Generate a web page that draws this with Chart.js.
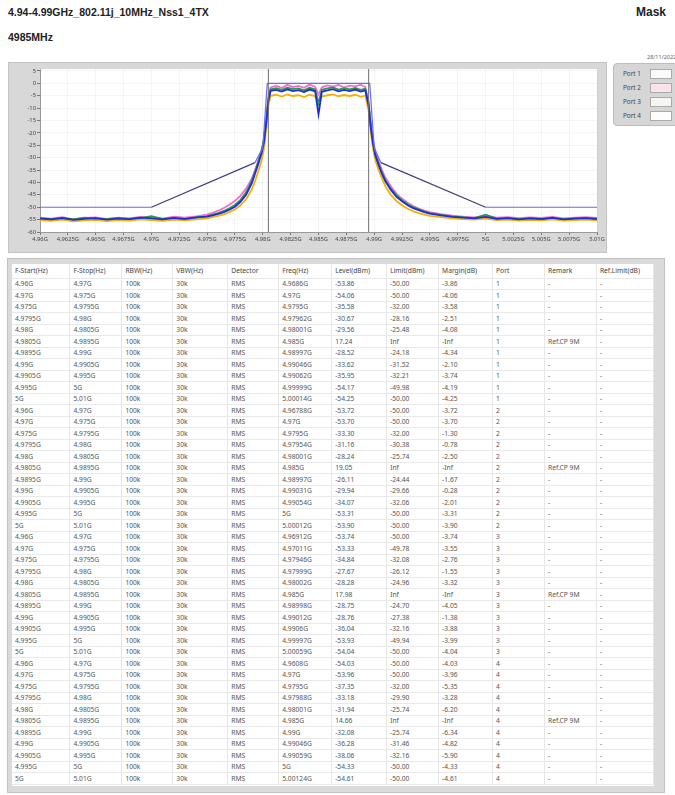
<!DOCTYPE html>
<html>
<head>
<meta charset="utf-8">
<script src="https://cdn.jsdelivr.net/npm/chart.js@4.4.1/dist/chart.umd.min.js"></script>
<style>
  body { margin: 0; width: 675px; height: 795px; background: #fff; overflow: hidden; position: relative; font-family: "Liberation Sans", Arial, sans-serif; }
  .title { position: absolute; font-weight: bold; font-size: 10.5px; color: #222; white-space: nowrap; }
  .date { position: absolute; left: 647px; top: 53px; font-size: 5.5px; color: #666; font-family: "Noto Sans", sans-serif; }
  #chartBox { position: absolute; left: 8px; top: 62px; width: 599px; height: 191px; background: #d8d8d8; border: 1px solid #c4c4c4; box-sizing: border-box; }
  #legend { position: absolute; left: 613px; top: 63px; width: 70px; height: 63px; background: #d6d6d6; border: 1px solid #bcbcbc; border-radius: 4px; box-sizing: border-box; font-family: "Noto Sans", sans-serif; font-size: 6.4px; color: #444; }
  #legend div { position: absolute; left: 9px; }
  #legend span { position: absolute; left: 36px; width: 22px; height: 10px; border: 1px solid #aaa; box-sizing: border-box; }
  #tableBox { position: absolute; left: 7px; top: 258px; width: 658px; height: 535px; background: #dadada; border: 1px solid #c2c2c2; box-sizing: border-box; }
  #tableInner { position: absolute; left: 4px; top: 5px; width: 642px; height: 522px; background: #fff; overflow: hidden; }
  table { border-collapse: collapse; font-family: "Noto Sans", sans-serif; font-size: 6.7px; color: #555; table-layout: fixed; }
  td { height: 11.5px; padding: 0 0 0 3px; border-bottom: 1px solid #e9e9e9; border-right: 1px solid #e6e6e6; white-space: nowrap; overflow: hidden; box-sizing: border-box; }
  tr.head td { height: 14px; color: #444; }
  td.mg { border-left: 1px solid #cdd96a; }
</style>
</head>
<body>
<div class="title" style="left:8px; top:6px;">4.94-4.99GHz_802.11j_10MHz_Nss1_4TX</div>
<div class="title" style="left:636px; top:5px; font-size:12px;">Mask</div>
<div class="title" style="left:8px; top:31px;">4985MHz</div>
<div class="date">28/11/2022</div>

<div id="chartBox"><canvas id="maskChart"></canvas></div>

<div id="legend">
  <div style="top:5px">Port 1</div><span style="top:5px; background:#fbfbfb;"></span>
  <div style="top:19px">Port 2</div><span style="top:19px; background:#fbe1ec;"></span>
  <div style="top:33px">Port 3</div><span style="top:33px; background:#f4f6f2;"></span>
  <div style="top:47px">Port 4</div><span style="top:47px; background:#fdfdfb;"></span>
</div>

<div id="tableBox"><div id="tableInner"><table id="resTable"></table></div></div>

<script>
// Axis ticks
const xTickVals = [4960, 4962.5, 4965, 4967.5, 4970, 4972.5, 4975, 4977.5, 4980, 4982.5, 4985, 4987.5, 4990, 4992.5, 4995, 4997.5, 5000, 5002.5, 5005, 5007.5, 5010];
const xTickLabels = ['4.96G', '4.9625G', '4.965G', '4.9675G', '4.97G', '4.9725G', '4.975G', '4.9775G', '4.98G', '4.9825G', '4.985G', '4.9875G', '4.99G', '4.9925G', '4.995G', '4.9975G', '5G', '5.0025G', '5.005G', '5.0075G', '5.01G'];
const yTickVals = [5, 0, -5, -10, -15, -20, -25, -30, -35, -40, -45, -50, -55, -60];

// Spectrum trace frequencies (MHz)
const freqMHz = [
  4960, 4961, 4962, 4963, 4964, 4965, 4966, 4967, 4968, 4969, 4970, 4971, 4972, 4973, 4974,
  4975, 4975.5, 4976, 4976.5, 4977, 4977.5, 4978, 4978.5, 4979, 4979.3, 4979.6, 4979.9, 4980.1, 4980.3, 4980.5,
  4980.7, 4981.2, 4981.7, 4982.2, 4982.7, 4983.2, 4983.7, 4984.2, 4984.7, 4985, 4985.3, 4985.8, 4986.3, 4986.8, 4987.3, 4987.8, 4988.3, 4988.8, 4989.2,
  4989.5, 4989.7, 4989.9, 4990.1, 4990.4, 4990.7, 4991, 4991.5, 4992, 4992.5, 4993, 4993.5, 4994, 4994.5, 4995,
  4996, 4997, 4998, 4999, 5000, 5001, 5002, 5003, 5004, 5005, 5006, 5007, 5008, 5009, 5010
];

// Levels (dBm) per port
const port1 = [
  -54.6, -54.9, -54.3, -55.1, -54.7, -54.4, -55.0, -54.6, -54.8, -54.2, -54.5, -54.9, -54.3, -54.7, -54.1,
  -53.8, -53.3, -52.7, -52.0, -51.0, -49.8, -47.8, -45.0, -40.5, -36.5, -32.5, -28.0, -24.0, -16.5, -7.0,
  -3.0, -2.6, -3.3, -2.4, -3.1, -2.7, -3.5, -2.5, -3.2, -12.5, -3.4, -2.8, -2.3, -3.2, -2.6, -3.1, -2.5, -3.3, -2.8,
  -9.0, -18.0, -24.5, -29.0, -33.0, -36.5, -39.5, -43.0, -45.8, -47.6, -49.2, -50.4, -51.2, -52.0, -52.6,
  -53.3, -53.9, -54.2, -54.5, -53.9, -54.7, -54.4, -54.9, -54.5, -54.8, -54.3, -54.9, -54.6, -54.4, -54.8
];
const port2 = [
  -54.2, -54.6, -54.0, -54.8, -54.3, -54.1, -54.7, -54.2, -54.5, -53.9, -54.1, -54.6, -53.8, -54.2, -53.7,
  -53.0, -52.3, -51.4, -50.3, -49.0, -47.4, -45.3, -42.5, -38.5, -35.0, -31.2, -27.0, -23.0, -15.0, -5.5,
  -1.6, -0.9, -1.9, -0.6, -1.5, -1.0, -1.8, -0.5, -1.4, -4.5, -1.6, -0.8, -1.3, -0.6, -1.7, -0.9, -1.2, -0.5, -1.5,
  -7.5, -16.5, -23.0, -27.5, -31.5, -35.0, -38.0, -41.5, -44.5, -46.5, -48.2, -49.5, -50.5, -51.4, -52.0,
  -52.8, -53.4, -53.8, -54.1, -53.5, -54.2, -54.0, -54.4, -54.1, -54.3, -53.9, -54.5, -54.2, -54.0, -54.3
];
const port3 = [
  -54.4, -54.8, -54.5, -54.9, -54.2, -54.6, -54.8, -54.3, -54.7, -54.4, -53.6, -54.7, -54.4, -54.8, -54.2,
  -53.6, -53.0, -52.4, -51.5, -50.4, -49.1, -47.0, -44.0, -39.5, -35.8, -31.5, -27.0, -22.5, -15.5, -6.5,
  -2.4, -1.9, -2.6, -1.7, -2.3, -2.0, -2.8, -1.8, -2.5, -8.0, -2.6, -2.0, -1.6, -2.5, -1.9, -2.4, -1.8, -2.6, -2.1,
  -8.5, -17.5, -24.0, -28.5, -32.5, -36.0, -39.0, -42.5, -45.2, -47.2, -48.8, -50.0, -50.9, -51.7, -52.4,
  -53.1, -53.7, -54.1, -54.4, -53.0, -54.6, -54.3, -54.8, -54.4, -54.7, -54.2, -54.8, -54.5, -54.3, -54.6
];
const port4 = [
  -55.2, -55.5, -55.0, -55.7, -55.3, -55.1, -55.6, -55.2, -55.4, -54.9, -55.2, -55.5, -55.0, -55.3, -54.9,
  -54.5, -54.0, -53.5, -52.9, -52.0, -50.9, -49.2, -46.8, -43.0, -39.5, -35.5, -31.0, -26.5, -18.5, -9.0,
  -5.0, -4.6, -5.3, -4.5, -5.1, -4.8, -5.5, -4.6, -5.2, -7.5, -5.3, -4.8, -4.5, -5.2, -4.7, -5.1, -4.6, -5.4, -4.9,
  -11.0, -20.0, -26.5, -31.0, -35.0, -38.5, -41.5, -45.0, -47.5, -49.2, -50.6, -51.6, -52.4, -53.0, -53.5,
  -54.0, -54.5, -54.8, -55.0, -54.6, -55.2, -55.0, -55.4, -55.1, -55.3, -54.9, -55.4, -55.2, -55.0, -55.3
];

// Mask limit line
const maskFreq = [4960, 4970, 4979.3, 4980, 4980.4, 4989.6, 4990, 4990.6, 5000, 5010];
const maskLevel = [-50, -50, -32, -26, 0, 0, -26, -32, -50, -50];

// Channel edge markers
const markerFreq = [4980.5, 4989.5];

// Result table columns
const fStart = ['4.96G','4.97G','4.975G','4.9795G','4.98G','4.9805G','4.9895G','4.99G','4.9905G','4.995G','5G'];
const fStop = ['4.97G','4.975G','4.9795G','4.98G','4.9805G','4.9895G','4.99G','4.9905G','4.995G','5G','5.01G'];
const peakFreq = [
  '4.9686G','4.97G','4.9795G','4.97962G','4.98001G','4.985G','4.98997G','4.99046G','4.99062G','4.99999G','5.00014G',
  '4.96788G','4.97G','4.9795G','4.97954G','4.98001G','4.985G','4.98997G','4.99031G','4.99054G','5G','5.00012G',
  '4.96912G','4.97011G','4.97946G','4.97999G','4.98002G','4.985G','4.98998G','4.99012G','4.9906G','4.99997G','5.00059G',
  '4.9608G','4.97G','4.9795G','4.97988G','4.98001G','4.985G','4.99G','4.99046G','4.99059G','5G','5.00124G'
];
const levelCol = [
  '-53.86','-54.06','-35.58','-30.67','-29.56','17.24','-28.52','-33.62','-35.95','-54.17','-54.25',
  '-53.72','-53.70','-33.30','-31.16','-28.24','19.05','-26.11','-29.94','-34.07','-53.31','-53.90',
  '-53.74','-53.33','-34.84','-27.67','-28.28','17.98','-28.75','-28.76','-36.04','-53.93','-54.04',
  '-54.03','-53.96','-37.35','-33.18','-31.94','14.66','-32.08','-36.28','-38.06','-54.33','-54.61'
];
const limitCol = [
  '-50.00','-50.00','-32.00','-28.16','-25.48','Inf','-24.18','-31.52','-32.21','-49.98','-50.00',
  '-50.00','-50.00','-32.00','-30.38','-25.74','Inf','-24.44','-29.66','-32.06','-50.00','-50.00',
  '-50.00','-49.78','-32.08','-26.12','-24.96','Inf','-24.70','-27.38','-32.16','-49.94','-50.00',
  '-50.00','-50.00','-32.00','-29.90','-25.74','Inf','-25.74','-31.46','-32.16','-50.00','-50.00'
];
const marginCol = [
  '-3.86','-4.06','-3.58','-2.51','-4.08','-Inf','-4.34','-2.10','-3.74','-4.19','-4.25',
  '-3.72','-3.70','-1.30','-0.78','-2.50','-Inf','-1.67','-0.28','-2.01','-3.31','-3.90',
  '-3.74','-3.55','-2.76','-1.55','-3.32','-Inf','-4.05','-1.38','-3.88','-3.99','-4.04',
  '-4.03','-3.96','-5.35','-3.28','-6.20','-Inf','-6.34','-4.82','-5.90','-4.33','-4.61'
];
const ports = ['1', '2', '3', '4'];
const headers = ['F-Start(Hz)', 'F-Stop(Hz)', 'RBW(Hz)', 'VBW(Hz)', 'Detector', 'Freq(Hz)', 'Level(dBm)', 'Limit(dBm)', 'Margin(dB)', 'Port', 'Remark', 'Ref.Limit(dB)'];
const colWidths = [58, 52, 51, 55, 51, 53, 55, 52, 54, 52, 52, 57];

// Build the result table
function buildTable() {
  const table = document.getElementById('resTable');
  let html = '<colgroup>' + colWidths.map(w => '<col style="width:' + w + 'px">').join('') + '</colgroup>';
  html += '<tr class="head">' + headers.map((h, i) => '<td' + (i === 8 ? ' class="mg"' : '') + '>' + h + '</td>').join('') + '</tr>';
  let row = 0;
  ports.forEach(function (p) {
    fStart.forEach(function (fs, i) {
      const isRef = limitCol[row] === 'Inf';
      const cells = [fs, fStop[i], '100k', '30k', 'RMS', peakFreq[row], levelCol[row], limitCol[row], marginCol[row], p, isRef ? 'Ref.CP 9M' : '-', '-'];
      html += '<tr>' + cells.map((c, k) => '<td' + (k === 8 ? ' class="mg"' : '') + '>' + c + '</td>').join('') + '</tr>';
      row++;
    });
  });
  table.innerHTML = html;
}

// White plot area on grey panel
const plotBg = {
  id: 'plotBg',
  beforeDraw(chart) {
    const { ctx, chartArea: a } = chart;
    ctx.save();
    ctx.fillStyle = '#ffffff';
    ctx.fillRect(a.left, a.top, a.width, a.height);
    ctx.restore();
  }
};

function toPoints(xs, ys) {
  return xs.map((x, i) => ({ x: x, y: ys[i] }));
}

function initChart() {
  const ctx = document.getElementById('maskChart').getContext('2d');
  const traceOpts = { pointRadius: 0, borderWidth: 1.8, tension: 0, fill: false };
  const datasets = [
    Object.assign({ label: 'Port 4', data: toPoints(freqMHz, port4), borderColor: '#f6b100', order: 6 }, traceOpts),
    Object.assign({ label: 'Port 2', data: toPoints(freqMHz, port2), borderColor: '#f26fd0', order: 5 }, traceOpts),
    Object.assign({ label: 'Port 3', data: toPoints(freqMHz, port3), borderColor: '#2e9a3c', order: 4 }, traceOpts),
    Object.assign({ label: 'Port 1', data: toPoints(freqMHz, port1), borderColor: '#1c2ee0', order: 3 }, traceOpts),
    {
      label: 'Mask', data: toPoints(maskFreq, maskLevel), pointRadius: 0, borderWidth: 1.2, tension: 0, order: 2,
      borderColor: '#6a6af2',
      segment: {
        borderColor: function (c) {
          const y0 = c.p0.parsed.y, y1 = c.p1.parsed.y;
          return (Math.min(y0, y1) === -50 && Math.max(y0, y1) === -32) ? '#3e3e7c' : '#6a6af2';
        }
      }
    }
  ];
  markerFreq.forEach(function (f) {
    datasets.push({ label: 'edge', data: [{ x: f, y: -60 }, { x: f, y: 5.8 }], borderColor: '#707070', borderWidth: 1, pointRadius: 0, order: 1 });
  });

  new Chart(ctx, {
    type: 'line',
    data: { datasets: datasets },
    plugins: [plotBg],
    options: {
      responsive: true,
      maintainAspectRatio: false,
      animation: false,
      layout: { padding: { left: 0, right: 9, top: 6, bottom: 0 } },
      plugins: { legend: { display: false }, tooltip: { enabled: false } },
      scales: {
        x: {
          type: 'linear', min: 4960, max: 5010,
          afterBuildTicks: function (s) { s.ticks = xTickVals.map(v => ({ value: v })); },
          afterFit: function (s) { s.height = 20; },
          ticks: {
            autoSkip: false, maxRotation: 0, padding: 1, color: '#444',
            font: { family: 'Noto Sans', size: 5.8 },
            callback: function (v, i) { return xTickLabels[i]; }
          },
          grid: { color: 'rgba(0,0,0,0.04)', tickColor: '#777', tickLength: 3 },
          border: { color: '#999' }
        },
        y: {
          type: 'linear', min: -60, max: 5.8,
          afterBuildTicks: function (s) { s.ticks = yTickVals.map(v => ({ value: v })); },
          afterFit: function (s) { s.width = 31; },
          ticks: {
            padding: 1, color: '#444',
            font: { family: 'Noto Sans', size: 5.8 },
            callback: function (v) { return String(v); }
          },
          grid: { color: 'rgba(0,0,0,0.04)', tickColor: '#777', tickLength: 3 },
          border: { color: '#999' }
        }
      }
    }
  });
}

document.addEventListener('DOMContentLoaded', function () {
  buildTable();
  initChart();
});
</script>
</body>
</html>
